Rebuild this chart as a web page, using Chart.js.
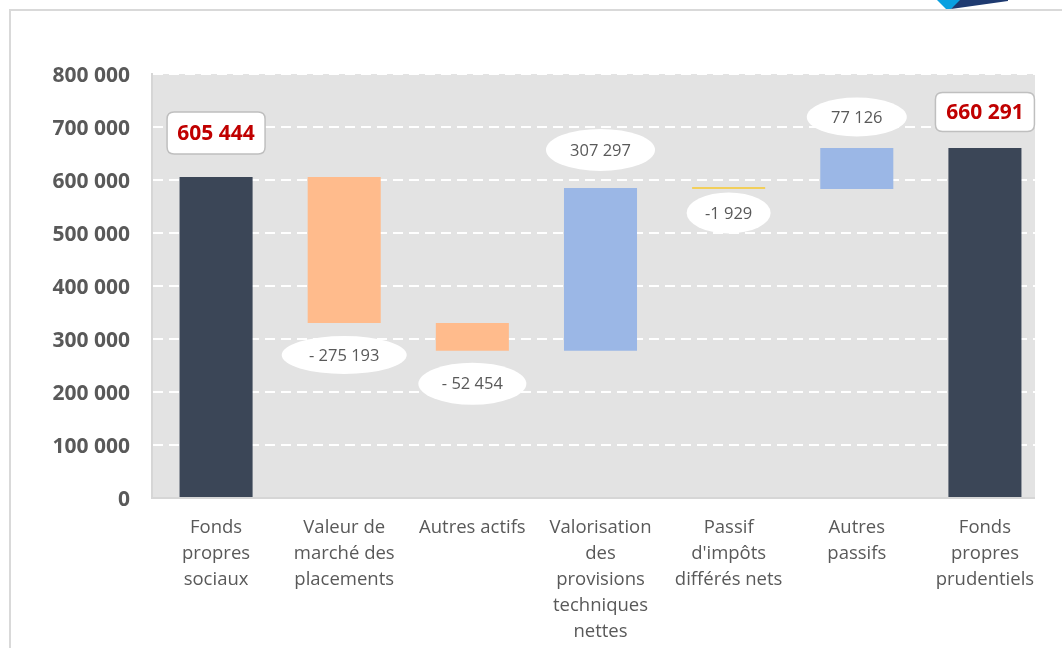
<!DOCTYPE html>
<html>
<head>
<meta charset="utf-8">
<script src="https://cdn.jsdelivr.net/npm/chart.js@4/dist/chart.umd.min.js"></script>
<style>
  html,body{margin:0;padding:0;background:#fff;}
  #wrap{width:1062px;height:648px;position:relative;}
</style>
</head>
<body>
<div id="wrap"><canvas id="c" width="1062" height="648"></canvas></div>
<script>
// ---- data ----
const categories = [
  ['Fonds', 'propres', 'sociaux'],
  ['Valeur de', 'marché des', 'placements'],
  ['Autres actifs'],
  ['Valorisation', 'des', 'provisions', 'techniques', 'nettes'],
  ['Passif', "d'impôts", 'différés nets'],
  ['Autres', 'passifs'],
  ['Fonds', 'propres', 'prudentiels']
];
const deltas = [605444, -275193, -52454, 307297, -1929, 77126, 660291];
const isTotal = [true, false, false, false, false, false, true];
const valueLabels = ['605 444', '- 275 193', '- 52 454', '307 297', '-1 929', '77 126', '660 291'];
const yTicks = [0, 100000, 200000, 300000, 400000, 500000, 600000, 700000, 800000];

// ---- styles ----
const barColors = ['#3b4657', '#ffbb8c', '#ffbb8c', '#9bb7e6', '#f2cf5b', '#9bb7e6', '#3b4657'];
// label shape: offset from bar edge (px), width, height
const labelStyle = [
  {pos: 'above', off: 44, w: 98, h: 42},
  {pos: 'below', off: 32, w: 125, h: 38},
  {pos: 'below', off: 33, w: 108, h: 42},
  {pos: 'above', off: 38, w: 109, h: 42},
  {pos: 'below', off: 24, w: 84, h: 41},
  {pos: 'above', off: 31, w: 100, h: 39},
  {pos: 'above', off: 36, w: 99, h: 39}
];
const PLOT_BG_RIGHT = 1035;

// floating bar ranges built from the deltas
const ranges = [];
let running = 0;
deltas.forEach((d, i) => {
  if (isTotal[i]) { ranges.push([0, d]); running = d; }
  else { ranges.push([running, running + d]); running += d; }
});

const fmt = v => String(v).replace(/\B(?=(\d{3})+(?!\d))/g, ' ');
const FONT = "'Open Sans', sans-serif";

const frameAndBg = {
  id: 'frameAndBg',
  beforeDraw(chart) {
    const ctx = chart.ctx, a = chart.chartArea;
    ctx.save();
    ctx.fillStyle = '#e3e3e3';
    ctx.fillRect(a.left, a.top, PLOT_BG_RIGHT - a.left, a.bottom - a.top);
    // frame
    ctx.strokeStyle = '#d9d9d9';
    ctx.lineWidth = 2;
    ctx.beginPath();
    ctx.moveTo(10, 648); ctx.lineTo(10, 10); ctx.lineTo(1062, 10);
    ctx.stroke();
    // logo fragment
    ctx.fillStyle = '#0aa0e0';
    ctx.beginPath();
    ctx.moveTo(937, 0); ctx.lineTo(963, 0); ctx.lineTo(951, 9); ctx.lineTo(946, 9); ctx.closePath();
    ctx.fill();
    ctx.fillStyle = '#1e3a70';
    ctx.beginPath();
    ctx.moveTo(960, 0); ctx.lineTo(1008, 0); ctx.lineTo(1008, 1); ctx.lineTo(951, 9); ctx.closePath();
    ctx.fill();
    ctx.restore();
  },
  beforeDatasetsDraw(chart) {
    // plot panel ends before the axis range ends
    const ctx = chart.ctx, a = chart.chartArea;
    ctx.save();
    ctx.fillStyle = '#ffffff';
    ctx.fillRect(PLOT_BG_RIGHT, a.top - 2, a.right - PLOT_BG_RIGHT + 4, a.bottom - a.top + 4);
    ctx.restore();
  }
};

function roundRect(ctx, x, y, w, h, r) {
  ctx.beginPath();
  ctx.moveTo(x + r, y);
  ctx.lineTo(x + w - r, y); ctx.quadraticCurveTo(x + w, y, x + w, y + r);
  ctx.lineTo(x + w, y + h - r); ctx.quadraticCurveTo(x + w, y + h, x + w - r, y + h);
  ctx.lineTo(x + r, y + h); ctx.quadraticCurveTo(x, y + h, x, y + h - r);
  ctx.lineTo(x, y + r); ctx.quadraticCurveTo(x, y, x + r, y);
  ctx.closePath();
}

const valueBoxes = {
  id: 'valueBoxes',
  afterDatasetsDraw(chart) {
    const ctx = chart.ctx;
    const meta = chart.getDatasetMeta(0);
    ctx.save();
    meta.data.forEach((el, i) => {
      const top = Math.min(el.y, el.base), bot = Math.max(el.y, el.base);
      const s = labelStyle[i];
      const cx = el.x;
      const cy = s.pos === 'above' ? top - s.off : bot + s.off;
      if (isTotal[i]) {
        roundRect(ctx, cx - s.w / 2, cy - s.h / 2, s.w, s.h, 7);
        ctx.fillStyle = '#ffffff';
        ctx.fill();
        ctx.strokeStyle = '#bfbfbf';
        ctx.lineWidth = 1.5;
        ctx.stroke();
        ctx.fillStyle = '#c00000';
        ctx.font = "bold 21px " + FONT;
      } else {
        ctx.beginPath();
        ctx.ellipse(cx, cy, s.w / 2, s.h / 2, 0, 0, Math.PI * 2);
        ctx.fillStyle = '#ffffff';
        ctx.fill();
        ctx.fillStyle = '#595959';
        ctx.font = "16.5px " + FONT;
      }
      ctx.textAlign = 'center';
      ctx.textBaseline = 'middle';
      ctx.fillText(valueLabels[i], cx, cy + 1);
    });
    ctx.restore();
  }
};

new Chart(document.getElementById('c'), {
  type: 'bar',
  data: {
    labels: categories,
    datasets: [{
      data: ranges,
      backgroundColor: barColors,
      borderWidth: 0,
      categoryPercentage: 1,
      barPercentage: 0.57,
      minBarLength: 2
    }]
  },
  options: {
    responsive: false,
    animation: false,
    devicePixelRatio: 1,
    layout: {padding: {left: 0, right: 13, top: 74, bottom: 0}},
    plugins: {legend: {display: false}, tooltip: {enabled: false}},
    scales: {
      x: {
        grid: {display: false, drawTicks: false},
        border: {color: '#d6d6d6', width: 2},
        ticks: {
          color: '#595959',
          font: {family: FONT, size: 18.5, lineHeight: 1.4},
          padding: 17,
          maxRotation: 0,
          autoSkip: false
        },
        afterFit(scale) { scale.height = 150; }
      },
      y: {
        min: 0, max: 800000,
        afterBuildTicks(scale) { scale.ticks = yTicks.map(v => ({value: v})); },
        grid: {color: '#ffffff', lineWidth: 2, drawTicks: false},
        border: {color: '#d6d6d6', width: 2, dash: [10, 6]},
        ticks: {
          color: '#595959',
          font: {family: FONT, size: 21, weight: 'bold'},
          padding: 22,
          labelOffset: 2,
          callback: v => fmt(v)
        },
        afterFit(scale) { scale.width = 152; }
      }
    }
  },
  plugins: [frameAndBg, valueBoxes]
});
</script>
</body>
</html>
